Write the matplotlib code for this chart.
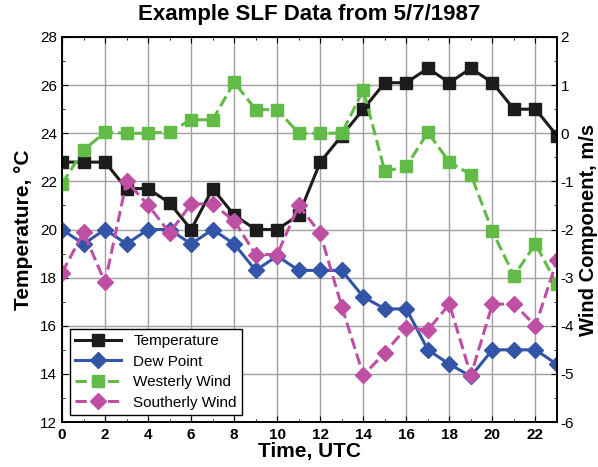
import matplotlib
matplotlib.use("Agg")
import matplotlib.pyplot as plt
from matplotlib.ticker import MultipleLocator

plt.rcParams['font.family'] = ['Liberation Sans', 'DejaVu Sans']
plt.rcParams['axes.unicode_minus'] = False

hours = list(range(24))
temperature = [22.8, 22.8, 22.8, 21.7, 21.7, 21.1, 20.0, 21.7, 20.6, 20.0, 20.0, 20.6,
               22.8, 23.9, 25.0, 26.1, 26.1, 26.7, 26.1, 26.7, 26.1, 25.0, 25.0, 23.9]
dew_point = [20.0, 19.4, 20.0, 19.4, 20.0, 20.0, 19.4, 20.0, 19.4, 18.3, 18.9, 18.3,
             18.3, 18.3, 17.2, 16.7, 16.7, 15.0, 14.4, 13.9, 15.0, 15.0, 15.0, 14.4]
westerly = [-1.05, -0.35, 0.02, 0.0, 0.0, 0.03, 0.28, 0.28, 1.06, 0.49, 0.49, 0.0,
            0.0, 0.0, 0.9, -0.79, -0.69, 0.02, -0.6, -0.86, -2.04, -2.96, -2.3, -3.14]
southerly = [-2.9, -2.06, -3.1, -1.0, -1.49, -2.07, -1.47, -1.47, -1.82, -2.52, -2.52, -1.5,
             -2.08, -3.6, -5.03, -4.56, -4.04, -4.09, -3.55, -5.03, -3.55, -3.55, -4.0, -2.64]

c_temp = '#1c1c1c'
c_dew = '#3355a8'
c_west = '#62bb46'
c_south = '#bf4fa3'

fig = plt.figure(figsize=(5.98, 4.67), dpi=100)
ax = fig.add_axes([62/598, 1-422/467, (557-62)/598, (422-37)/467])
ax2 = ax.twinx()

l1, = ax.plot(hours, temperature, '-', color=c_temp, lw=2.2, marker='s', ms=8.5, label='Temperature')
l2, = ax.plot(hours, dew_point, '-', color=c_dew, lw=2.2, marker='D', ms=8, label='Dew Point')
l3, = ax2.plot(hours, westerly, '--', color=c_west, lw=2.2, marker='s', ms=8.5, label='Westerly Wind')
l4, = ax2.plot(hours, southerly, '--', color=c_south, lw=2.2, marker='D', ms=8, label='Southerly Wind')

ax.set_xlim(0, 23)
ax.set_ylim(12, 28)
ax2.set_ylim(-6, 2)

ax.xaxis.set_major_locator(MultipleLocator(2))
ax.xaxis.set_minor_locator(MultipleLocator(1))
ax.yaxis.set_major_locator(MultipleLocator(2))
ax.yaxis.set_minor_locator(MultipleLocator(1))
ax2.yaxis.set_major_locator(MultipleLocator(1))
ax2.yaxis.set_minor_locator(MultipleLocator(0.5))

ax.grid(True, which='major', color='#a0a0a0', lw=1.0)
ax.set_axisbelow(True)

ax.tick_params(which='both', direction='in', top=True, right=False, labelsize=11)
ax.tick_params(which='major', length=4)
ax.tick_params(which='minor', length=2.5)
ax.tick_params(axis='x', pad=4)
ax2.tick_params(which='both', direction='in', labelsize=11, pad=2.5)
ax2.tick_params(which='major', length=4)
ax2.tick_params(which='minor', length=2.5)
for lab in ax.get_xticklabels():
    lab.set_fontweight('bold')

for sp in list(ax.spines.values()) + list(ax2.spines.values()):
    sp.set_linewidth(1.2)

ax.set_title('Example SLF Data from 5/7/1987', fontsize=16, fontweight='bold', pad=12)
ax.set_xlabel('Time, UTC', fontsize=15, fontweight='bold', labelpad=0)
ax.set_ylabel('Temperature, \u00b0C', fontsize=15, fontweight='bold', labelpad=5)
ax2.set_ylabel('Wind Component, m/s', fontsize=14.5, fontweight='bold')
ax2.yaxis.set_label_coords((579 - 62) / 495, 0.5)

leg = ax2.legend(handles=[l1, l2, l3, l4], loc='lower left', fontsize=11, handlelength=3,
                 fancybox=False, framealpha=1, edgecolor='black', borderpad=0.35,
                 labelspacing=0.43, borderaxespad=0,
                 bbox_to_anchor=((70 - 62) / 495, (422 - 415) / 385))
leg.get_frame().set_linewidth(1.0)

fig.savefig('out.png', dpi=100)
